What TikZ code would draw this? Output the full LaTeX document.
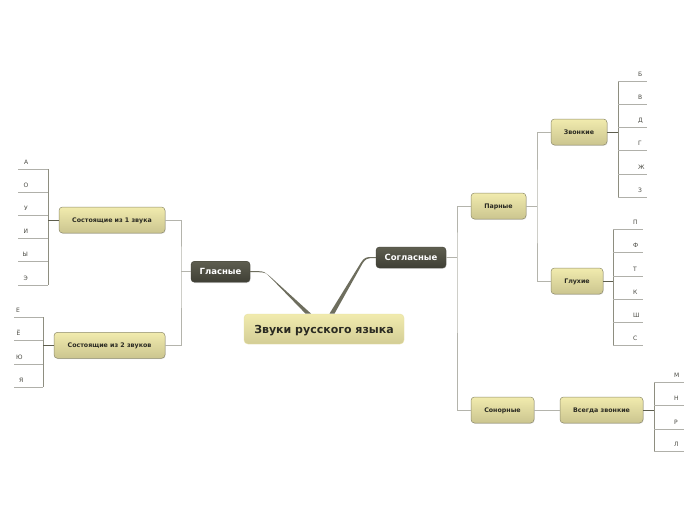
\documentclass[tikz,border=0pt]{standalone}
\usepackage{fontspec}
\setmainfont{DejaVu Sans}
\usetikzlibrary{shadows,calc}
\definecolor{ytop}{HTML}{F1EBAE}
\definecolor{ybot}{HTML}{CBC58F}
\definecolor{yborder}{HTML}{8E8B6C}
\definecolor{dtop}{HTML}{5E5E50}
\definecolor{dbot}{HTML}{3F3F35}
\definecolor{conn}{HTML}{6E6E5E}
\definecolor{branchc}{HTML}{B4B4AC}
\definecolor{vlinec}{HTML}{8E8E80}
\definecolor{ulinec}{HTML}{B0B0AA}
\definecolor{stemc}{HTML}{5E5E4E}
\definecolor{txt}{HTML}{2A2A22}
\tikzset{
  centralbox/.style={rounded corners=4pt, top color=ytop, bottom color=ybot!80!ytop, draw=ytop!70!ybot,
    minimum width=160pt, minimum height=30pt, inner sep=0pt, text=txt,
    text height=8pt, text depth=0pt,
    font=\fontsize{11}{13}\selectfont\bfseries},
  topicbox/.style={rounded corners=3.5pt, top color=dtop, bottom color=dbot, draw=dbot,
    inner sep=0pt, minimum height=21pt, text=white,
    text height=6.2pt, text depth=0pt,
    font=\fontsize{8.5}{10}\selectfont\bfseries,
    drop shadow={shadow xshift=0.6pt, shadow yshift=-0.8pt, opacity=0.25}},
  subbox/.style={rounded corners=3.5pt, top color=ytop, bottom color=ybot, draw=yborder, line width=0.5pt,
    inner sep=0pt, minimum height=26pt, text=txt,
    text height=4.6pt, text depth=0pt,
    font=\fontsize{6.3}{7.5}\selectfont\bfseries,
    drop shadow={shadow xshift=0.6pt, shadow yshift=-0.8pt, opacity=0.2}},
  leaf/.style={anchor=base west, inner sep=0pt, text=txt!85, font=\fontsize{6}{7}\selectfont},
  branch/.style={draw=branchc, line width=0.8pt},
  vline/.style={draw=vlinec, line width=0.7pt},
  uline/.style={draw=ulinec, line width=0.7pt},
  stem/.style={draw=stemc, line width=0.9pt},
  taper/.style={fill=conn, draw=none},
}
\begin{document}
\begin{tikzpicture}[x=1pt,y=-1pt]
\useasboundingbox (0,0) rectangle (696,520);
\fill[white] (0,0) rectangle (696,520);

% nodes
\node[centralbox] (main) at (324,329) {Звуки русского языка};
\node[topicbox, minimum width=59pt] (gl) at (220.5,271.7) {Гласные};
\node[topicbox, minimum width=70pt] (sg) at (411,257.5) {Согласные};
\node[subbox, minimum width=106pt] (s1) at (112,220) {Состоящие из 1 звука};
\node[subbox, minimum width=111pt] (s2) at (109.5,345.3) {Состоящие из 2 звуков};
\node[subbox, minimum width=55pt] (par) at (498.5,206) {Парные};
\node[subbox, minimum width=56pt] (zv) at (579,132) {Звонкие};
\node[subbox, minimum width=52pt] (gx) at (577,281) {Глухие};
\node[subbox, minimum width=63pt] (son) at (502.5,410) {Сонорные};
\node[subbox, minimum width=83pt] (vz) at (601.5,410) {Всегда звонкие};

% tapered connectors from the central topic
\coordinate (tgl) at (gl.east);
\coordinate (tsg) at (sg.west);
\fill[taper] ($(tgl)+(0,-0.5)$) -- (259,271.2) .. controls (264,271.2) and (266,273) .. (268.5,275.5)
  -- (305.5,313.6) -- (311,313.6) -- (270,276.4) .. controls (266.5,273.2) and (264,272.2) .. (259,272.2)
  -- ($(tgl)+(0,0.5)$) -- cycle;
\fill[taper] (329.5,313.6) -- (361,262.5) .. controls (364,257.5) and (367,257) .. (371,257)
  -- ($(tsg)+(0,-0.5)$) -- ($(tsg)+(0,0.5)$) -- (371,258) .. controls (368,258) and (365.5,259) .. (362.8,263)
  -- (334.5,313.6) -- cycle;

% Гласные branches
\coordinate (gv) at (181,271.7);
\draw[branch] (gl.west) -- (gv);
\draw[branch] (s1.east) -| (gv) |- (s2.east);

% Согласные branches
\coordinate (sv) at (457,257.5);
\draw[branch] (sg.east) -- (sv);
\draw[branch] (par.west) -| (sv) |- (son.west);
\coordinate (pv) at (537,206);
\draw[branch] (par.east) -- (pv);
\draw[branch] (zv.west) -| (pv) |- (gx.west);
\draw[branch] (son.east) -- (vz.west);

% leaves: Состоящие из 1 звука
\coordinate (v1) at (48,220);
\draw[vline] (48,169) -- (48,285);
\draw[stem] (s1.west) -- (v1);
\foreach \t/\y/\x [count=\i] in {А/169/24,О/192.3/23.3,У/215.7/24,И/238.3/23.3,Ы/261.7/22.3,Э/285/23.3}{
  \draw[uline] (18,\y) -- (48,\y);
  \node[leaf] (a\i) at (\x,\y-4.8) {\t};
}

% leaves: Состоящие из 2 звуков
\coordinate (v2) at (43.3,345.3);
\draw[vline] (43.3,317.3) -- (43.3,387.3);
\draw[stem] (s2.west) -- (v2);
\foreach \t/\y/\x [count=\i] in {Е/317.3/16,Ё/340.7/16.3,Ю/364/16,Я/387.3/19}{
  \draw[uline] (14,\y) -- (43.3,\y);
  \node[leaf] (b\i) at (\x,\y-4.8) {\t};
}

% leaves: Звонкие
\coordinate (v3) at (618.3,132);
\draw[vline] (618.3,81) -- (618.3,197.3);
\draw[stem] (zv.east) -- (v3);
\foreach \t/\y [count=\i] in {Б/81,В/104.3,Д/127.7,Г/150.7,Ж/174,З/197.3}{
  \draw[uline] (618.3,\y) -- (647.3,\y);
  \node[leaf] (c\i) at (638,\y-4.8) {\t};
}

% leaves: Глухие
\coordinate (v4) at (613.3,281);
\draw[vline] (613.3,229.3) -- (613.3,345.7);
\draw[stem] (gx.east) -- (v4);
\foreach \t/\y [count=\i] in {П/229.3,Ф/252.7,Т/276,К/299.3,Ш/322.7,С/345.7}{
  \draw[uline] (613.3,\y) -- (642.7,\y);
  \node[leaf] (d\i) at (633,\y-4.8) {\t};
}

% leaves: Всегда звонкие
\coordinate (v5) at (654.3,410);
\draw[vline] (654.3,382.3) -- (654.3,451.7);
\draw[stem] (vz.east) -- (v5);
\foreach \t/\y [count=\i] in {М/382.3,Н/405.7,Р/429,Л/451.7}{
  \draw[uline] (654.3,\y) -- (684,\y);
  \node[leaf] (e\i) at (674,\y-4.8) {\t};
}
\end{tikzpicture}
\end{document}
